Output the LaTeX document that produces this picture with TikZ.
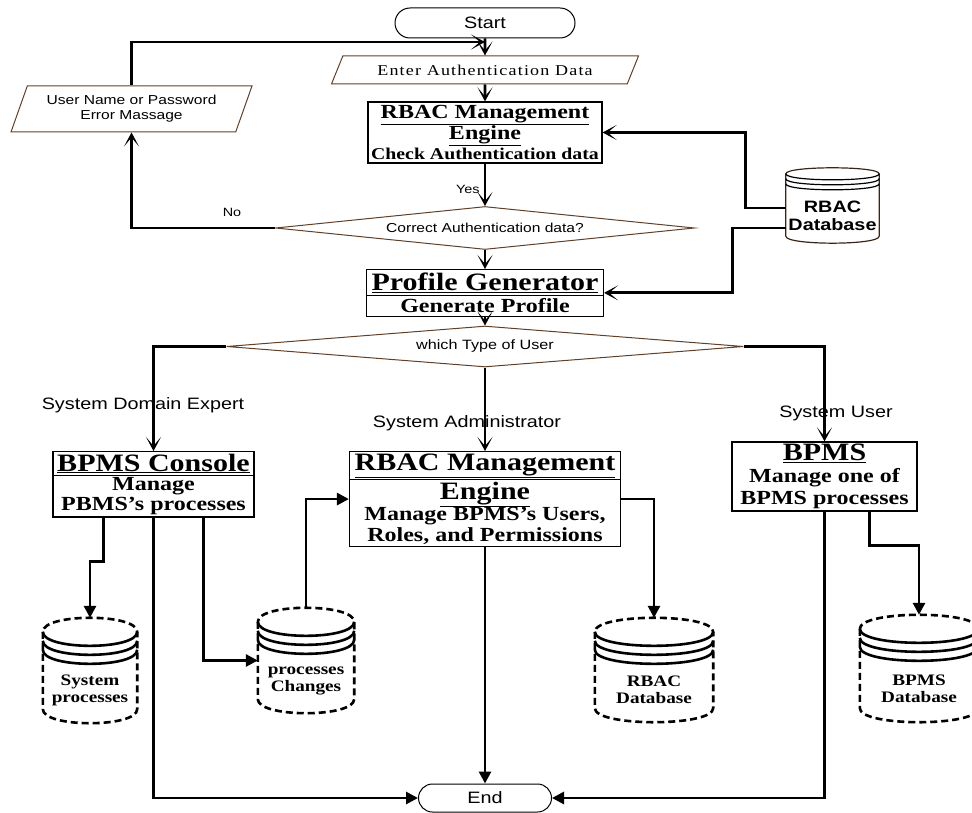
\documentclass[tikz,border=0pt]{standalone}
\usepackage{fontspec}
\setmainfont{Liberation Serif}[FakeStretch=1.2]
\setsansfont{Liberation Sans}[FakeStretch=1.2]
\usetikzlibrary{arrows.meta}
\usetikzlibrary{shapes.geometric}
\usetikzlibrary{shapes.misc}
\usetikzlibrary{shapes.multipart}
\usetikzlibrary{calc}
\definecolor{flowBrown}{RGB}{96,64,40}

\begin{document}
\begin{tikzpicture}[x = 1pt, y = -1pt]
	\tikzstyle{terminalStyle} = [shape = rounded rectangle, draw, line width = 1pt, inner sep = 0pt, font = \sffamily\fontsize{16.5}{18}\selectfont]
	\tikzstyle{ioStyle} = [shape = trapezium, trapezium stretches body = true, draw = flowBrown, line width = 1pt, inner sep = 0pt]
	\tikzstyle{decisionStyle} = [shape = diamond, draw = flowBrown, line width = 1pt, inner sep = 0pt, font = \sffamily\fontsize{13}{15}\selectfont]
	\tikzstyle{processStyle} = [shape = rectangle, draw, line width = 1.2pt, inner xsep = 1pt, inner ysep = 1.5pt, align = center, font = \bfseries\fontsize{20}{20}\selectfont]
	\tikzstyle{splitStyle} = [processStyle, rectangle split, rectangle split parts = 2]
	\tikzstyle{storeStyle} = [shape = rectangle, inner sep = 0pt]
	\tikzstyle{storeText} = [align = center, font = \bfseries\fontsize{16}{17}\selectfont, yshift = -20pt]
	\tikzstyle{storeLine} = [line width = 2.6pt, line join = round]
	\tikzstyle{roleStyle} = [font = \sffamily\fontsize{16.5}{18}\selectfont]
	\tikzstyle{answerStyle} = [font = \sffamily\fontsize{12}{14}\selectfont, inner sep = 1pt]
	\tikzstyle{flowArrow} = [line width = 2.8pt, -{Stealth[length = 14pt, width = 15pt, inset = 9pt]}]
	\tikzstyle{fillArrow} = [line width = 2.8pt, -{Triangle[length = 12pt, width = 12pt]}]

	\useasboundingbox (0,0) rectangle (972,813);

	% login part
	\node[terminalStyle, minimum width = 180, minimum height = 30] (start) at (485,23) {Start};
	\node[ioStyle, trapezium left angle = 43, trapezium right angle = 137, minimum width = 307, minimum height = 28, font = \fontsize{15}{15}\selectfont\addfontfeatures{LetterSpace=8}] (enter) at (485,70) {Enter Authentication Data};
	\node[processStyle, minimum width = 234, minimum height = 61] (rbacCheck) at (485,132.5) {\underline{RBAC Management}\\\underline{Engine}\\{\fontsize{16.5}{20}\selectfont Check Authentication data}};
	\node[decisionStyle, aspect = 9.7, minimum width = 419, minimum height = 43] (correct) at (485,228) {Correct Authentication data?};
	\node[ioStyle, trapezium left angle = 59, trapezium right angle = 121, minimum width = 241, minimum height = 46, align = center, font = \sffamily\fontsize{13}{15}\selectfont] (loginError) at (131.5,109) {User Name or Password\\Error Massage};
	\node[storeStyle, minimum width = 93, minimum height = 75, label = {[align = center, font = \sffamily\bfseries\fontsize{16.5}{18}\selectfont, yshift = -10.5pt]center:RBAC\\Database}] (authDB) at (832.5,205.5) {};
	\node[splitStyle, anchor = north, minimum width = 237, inner ysep = 2.5pt] (profile) at (485,269) {{\fontsize{25}{25}\selectfont\underline{Profile Generator}}\nodepart{two}Generate Profile};
	\node[decisionStyle, aspect = 12.6, minimum width = 517, minimum height = 41, font = \sffamily\fontsize{13.5}{15}\selectfont] (userType) at (485,346.5) {which Type of User};

	% user roles
	\node[roleStyle] (expertLabel) at (143,405) {System Domain Expert};
	\node[roleStyle] (adminLabel) at (467,423) {System Administrator};
	\node[roleStyle] (userLabel) at (836,413) {System User};
	\node[splitStyle, anchor = north, minimum width = 201] (console) at (153.5,451) {{\fontsize{25}{25}\selectfont\underline{BPMS Console}}\nodepart{two}Manage\\PBMS's processes};
	\node[splitStyle, anchor = north, minimum width = 271, font = \bfseries\fontsize{20}{21}\selectfont] (rbacManage) at (485,451) {{\fontsize{25}{25}\selectfont\underline{RBAC Management}}\nodepart{two}{\fontsize{25}{25}\selectfont\underline{Engine}}\\Manage BPMS's Users,\\Roles, and Permissions};
	\node[processStyle, minimum width = 185, minimum height = 69, font = \bfseries\fontsize{20}{22}\selectfont] (bpms) at (824.5,476.5) {{\fontsize{25}{25}\selectfont\underline{BPMS}}\\Manage one of\\BPMS processes};

	% data stores
	\node[storeStyle, minimum width = 94, minimum height = 105, label = {[storeText]center:System\\processes}] (sysDB) at (90,670.5) {};
	\node[storeStyle, minimum width = 96, minimum height = 105, label = {[storeText]center:processes\\Changes}] (changeDB) at (306,660.5) {};
	\node[storeStyle, minimum width = 118, minimum height = 104, label = {[storeText]center:RBAC\\Database}] (rbacDB) at (654,670) {};
	\node[storeStyle, minimum width = 118, minimum height = 107, label = {[storeText]center:BPMS\\Database}] (bpmsDB) at (919,668.5) {};
	\node[terminalStyle, minimum width = 133, minimum height = 28] (finish) at (485,798) {End};

	% cylinder outlines
	\draw[line width = 1.2pt, draw = flowBrown!60!black] ($(authDB.north west)+(0,6)$) -- ($(authDB.south west)+(0,-7)$) .. controls ($(authDB.south west)+(0,2.3)$) and ($(authDB.south east)+(0,2.3)$) .. ($(authDB.south east)+(0,-7)$) -- ($(authDB.north east)+(0,6)$) .. controls ($(authDB.north east)+(0,-2)$) and ($(authDB.north west)+(0,-2)$) .. cycle;
	\foreach \k in {6,11,16}
		\draw[line width = 1.2pt] ($(authDB.north west)+(0,\k)$) .. controls ($(authDB.north west)+(0,\k+8)$) and ($(authDB.north east)+(0,\k+8)$) .. ($(authDB.north east)+(0,\k)$);
	\foreach \db in {sysDB, changeDB, rbacDB, bpmsDB} {
		\draw[storeLine, dash pattern = on 7pt off 4pt] ($(\db.north west)+(0,14)$) -- ($(\db.south west)+(0,-14)$) .. controls ($(\db.south west)+(0,4.7)$) and ($(\db.south east)+(0,4.7)$) .. ($(\db.south east)+(0,-14)$) -- ($(\db.north east)+(0,14)$) .. controls ($(\db.north east)+(0,-4.7)$) and ($(\db.north west)+(0,-4.7)$) .. cycle;
		\foreach \k in {14,23,32}
			\draw[storeLine] ($(\db.north west)+(0,\k)$) .. controls ($(\db.north west)+(0,\k+18.7)$) and ($(\db.north east)+(0,\k+18.7)$) .. ($(\db.north east)+(0,\k)$);
	}

	\coordinate (loopIn) at (485,42);

	\draw[flowArrow] (start) -- (enter);
	\draw[flowArrow] (enter) -- (rbacCheck);
	\draw[flowArrow] (rbacCheck) -- node[pos = 0.62, left = 3pt, answerStyle] {Yes} (correct);
	\draw[flowArrow] (correct.west) -| node[pos = 0.15, above = 9pt, answerStyle] {No} (loginError.south);
	\draw[flowArrow] (loginError.north) |- (loopIn);
	\draw[flowArrow] ([yshift = -2.5pt]authDB.west) -- ++(-40,0) |- (rbacCheck.east);
	\draw[flowArrow] ([yshift = -22.5pt]authDB.west) -- ++(-53,0) |- (profile.east);
	\draw[flowArrow] (correct) -- (profile);
	\draw[flowArrow] (profile) -- (userType);
	\draw[flowArrow] (userType.west) -| (console.north);
	\draw[flowArrow] (userType.south) -- (rbacManage.north);
	\draw[flowArrow] (userType.east) -| (bpms.north);

	\draw[fillArrow] ([xshift = -50pt]console.south) -- ++(0,44) -| (sysDB.north);
	\draw[fillArrow] ([xshift = 50pt]console.south) |- (changeDB.west);
	\draw[fillArrow] (console.south) |- (finish.west);
	\draw[fillArrow] (changeDB.north) |- (rbacManage.west);
	\draw[fillArrow] (rbacManage.south) -- (finish.north);
	\draw[fillArrow] (rbacManage.east) -| (rbacDB.north);
	\draw[fillArrow] (bpms.south) |- (finish.east);
	\draw[fillArrow] ([xshift = 45pt]bpms.south) -- ++(0,34) -| (bpmsDB.north);
\end{tikzpicture}
\end{document}
